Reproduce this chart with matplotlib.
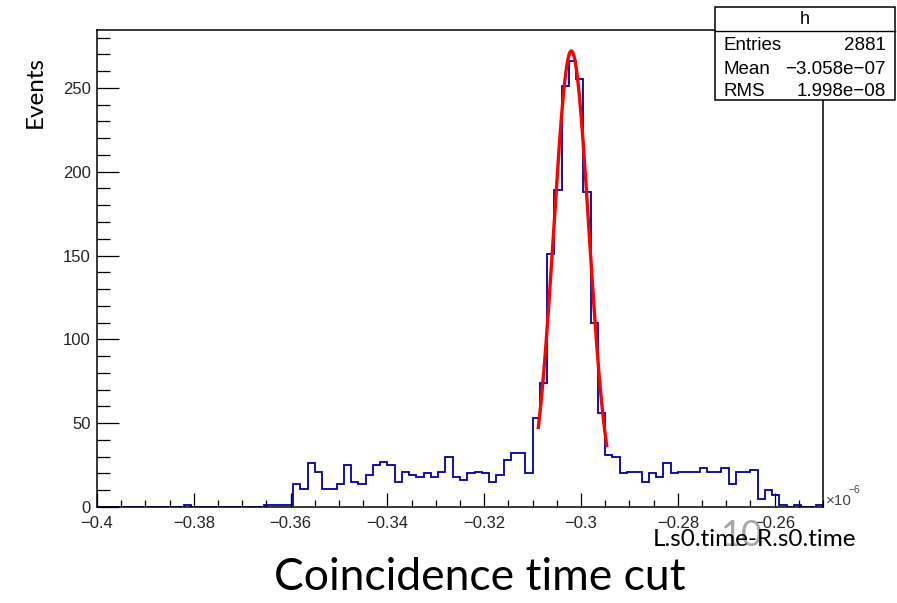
import numpy as np
import matplotlib
matplotlib.use("Agg")
import matplotlib.pyplot as plt
from matplotlib.patches import Rectangle
from matplotlib.lines import Line2D
from matplotlib.ticker import MultipleLocator, FixedLocator

# ---------------- data ----------------
x_min, x_max, n_bins = -0.40, -0.25, 100   # units of 1e-6 s
counts = [
    0, 0, 0, 0, 0, 0, 0, 0, 0, 0,
    0, 0, 1, 0, 0, 0, 0, 0, 0, 0,
    0, 0, 0, 1, 1, 1, 1, 14, 11, 26,
    21, 11, 11, 14, 25, 15, 14, 19, 25, 27,
    25, 15, 21, 19, 18, 20, 18, 21, 30, 18,
    16, 20, 21, 20, 15, 19, 28, 32, 32, 20,
    53, 74, 151, 189, 251, 266, 255, 188, 110, 56,
    31, 30, 20, 21, 21, 15, 20, 18, 26, 20,
    21, 21, 21, 23, 21, 21, 23, 14, 21, 21,
    22, 5, 10, 7, 1, 0, 1, 0, 0, 1,
]
# Gaussian fit parameters
fit_const, fit_mean, fit_sigma = 272.0, -0.3020, 0.00365
fit_range = (-0.30882, -0.29469)

x_ticks = [-0.40, -0.38, -0.36, -0.34, -0.32, -0.30, -0.28, -0.26]
x_ticklabels = ["\u22120.4", "\u22120.38", "\u22120.36", "\u22120.34", "\u22120.32", "\u22120.3", "\u22120.28", "\u22120.26"]
y_ticks = [0, 50, 100, 150, 200, 250]
y_ticklabels = ["0", "50", "100", "150", "200", "250"]

stats_name = "h"
stats_rows = [("Entries", "2881"), ("Mean", "\u22123.058e\u221207"), ("RMS", "1.998e\u221208")]

title = "Coincidence time cut"
xlabel = "L.s0.time-R.s0.time"
ylabel = "Events"
slide_number = "10"

# ---------------- figure ----------------
W, H = 897, 603
fig = plt.figure(figsize=(W / 100, H / 100), dpi=100)
fig.patch.set_facecolor("white")

def fx(px):
    return px / W

def fy(py):
    return 1 - py / H

ax_l, ax_r, ax_t, ax_b = 97, 823, 30, 507
ax = fig.add_axes([fx(ax_l), fy(ax_b), (ax_r - ax_l) / W, (ax_b - ax_t) / H])
ax.set_xlim(x_min, x_max)
ax.set_ylim(0, 284.5)

edges = np.linspace(x_min, x_max, n_bins + 1)
ax.stairs(counts, edges, color="#000099", linewidth=1.3, zorder=2)

xf = np.linspace(fit_range[0], fit_range[1], 200)
yf = fit_const * np.exp(-0.5 * ((xf - fit_mean) / fit_sigma) ** 2)
ax.plot(xf, yf, color="#ff0000", linewidth=2.4, zorder=3)

for s in ax.spines.values():
    s.set_linewidth(1.1)
    s.set_color("black")
    s.set_zorder(4)

ax.xaxis.set_major_locator(FixedLocator(x_ticks))
ax.set_xticklabels(x_ticklabels)
ax.xaxis.set_minor_locator(MultipleLocator(0.005))
ax.yaxis.set_major_locator(FixedLocator(y_ticks))
ax.set_yticklabels(y_ticklabels)
ax.yaxis.set_minor_locator(MultipleLocator(10))

tick_font = "Liberation Sans"
ax.tick_params(axis="x", which="major", direction="in", length=10, width=0.9, pad=6.5,
               labelsize=12, labelcolor="#222222", top=False)
ax.tick_params(axis="x", which="minor", direction="in", length=5, width=0.9, top=False)
ax.tick_params(axis="y", which="major", direction="in", length=15.5, width=0.9, pad=4.5,
               labelsize=12, labelcolor="#222222", right=False)
ax.tick_params(axis="y", which="minor", direction="in", length=9, width=0.9, right=False)
for lab in ax.get_xticklabels() + ax.get_yticklabels():
    lab.set_fontfamily(tick_font)

# exponent label
fig.text(fx(826), fy(501), "\u00d710", fontsize=11, color="#444444", family=tick_font,
         ha="left", va="center")
fig.text(fx(848.5), fy(490), "\u22126", fontsize=7.5, color="#444444", family=tick_font,
         ha="left", va="center")

# stats box
bx0, bx1, by0, by1, bdiv = 715, 895, 7, 100, 31
fig.patches.append(Rectangle((fx(bx0), fy(by1)), (bx1 - bx0) / W, (by1 - by0) / H,
                             transform=fig.transFigure, facecolor="white",
                             edgecolor="black", linewidth=1.1, zorder=10))
fig.lines.append(Line2D([fx(bx0), fx(bx1)], [fy(bdiv), fy(bdiv)], transform=fig.transFigure,
                        color="black", linewidth=1.0, zorder=11))
fig.text(fx((bx0 + bx1) / 2), fy(19), stats_name, fontsize=13, family=tick_font,
         ha="center", va="center", zorder=12)
row_y = [46, 69, 91.5]
for (k, v), yy in zip(stats_rows, row_y):
    fig.text(fx(723), fy(yy), k, fontsize=13.5, family=tick_font, ha="left", va="center", zorder=12)
    fig.text(fx(886), fy(yy), v, fontsize=13.5, family=tick_font, ha="right", va="center", zorder=12)

slide_font = "Lato"
fig.text(fx(35), fy(92), ylabel, rotation=90, fontsize=17.5, family=slide_font,
         ha="center", va="center")
fig.text(fx(741), fy(536), slide_number, fontsize=26, family=slide_font, color="#a6a6a6",
         ha="center", va="center")
fig.text(fx(754.5), fy(540), xlabel, fontsize=17.5, family=slide_font, color="black",
         ha="center", va="center")
fig.text(fx(480), fy(578), title, fontsize=32, family=slide_font, color="black",
         ha="center", va="center")

fig.savefig("out.png", dpi=100, facecolor="white")
